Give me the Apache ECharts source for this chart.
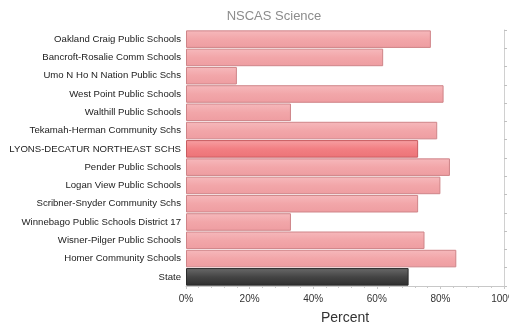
<!DOCTYPE html>
<html>
<head>
<meta charset="utf-8">
<script src="https://cdn.jsdelivr.net/npm/echarts@6/dist/echarts.min.js"></script>
<style>
html, body { margin: 0; padding: 0; background: #fff; }
#chart { width: 509px; height: 324px; }
</style>
</head>
<body>
<div id="chart"></div>
<script>
var schools = [
    'Oakland Craig Public Schools',
    'Bancroft-Rosalie Comm Schools',
    'Umo N Ho N Nation Public Schs',
    'West Point Public Schools',
    'Walthill Public Schools',
    'Tekamah-Herman Community Schs',
    'LYONS-DECATUR NORTHEAST SCHS',
    'Pender Public Schools',
    'Logan View Public Schools',
    'Scribner-Snyder Community Schs',
    'Winnebago Public Schools District 17',
    'Wisner-Pilger Public Schools',
    'Homer Community Schools',
    'State'
];
var percents = [77, 62, 16, 81, 33, 79, 73, 83, 80, 73, 33, 75, 85, 70];
var highlight = 'LYONS-DECATUR NORTHEAST SCHS';
var stateName = 'State';

function grad(top, mid, bottom) {
    return new echarts.graphic.LinearGradient(0, 0, 0, 1, [
        {offset: 0, color: top},
        {offset: 0.5, color: mid},
        {offset: 1, color: bottom}
    ]);
}

var barData = schools.map(function (name, i) {
    var style;
    if (name === stateName) {
        style = {color: grad('#6a6a6a', '#454545', '#2e2e2e'), borderColor: '#2a2a2a', borderWidth: 1};
    } else if (name === highlight) {
        style = {color: grad('#f7a0a3', '#f27f83', '#ec7377'), borderColor: '#c85c60', borderWidth: 1};
    } else {
        style = {color: grad('#f6b9bc', '#f2a6a9', '#ee9da1'), borderColor: '#cf8488', borderWidth: 1};
    }
    return {value: percents[i], itemStyle: style};
});

var chart = echarts.init(document.getElementById('chart'));
var option = {
    animation: false,
    title: {
        text: 'NSCAS Science',
        left: 269,
        textAlign: 'center',
        top: 5,
        textStyle: {
            fontFamily: 'Liberation Sans',
            fontSize: 13,
            fontWeight: 'normal',
            color: '#8c8c8c'
        }
    },
    grid: {
        left: 186,
        right: 5,
        top: 30,
        bottom: 38,
        outerBoundsMode: 'none',
        containLabel: false
    },
    xAxis: {
        type: 'value',
        min: 0,
        max: 100,
        interval: 20,
        name: 'Percent',
        nameLocation: 'middle',
        nameGap: 25,
        nameTextStyle: {
            fontFamily: 'Liberation Sans',
            fontSize: 14,
            color: '#333'
        },
        axisLine: {show: true, lineStyle: {color: '#c8c8c8'}},
        axisTick: {show: true, length: 3, lineStyle: {color: '#c8c8c8'}},
        minorTick: {show: true, splitNumber: 5, length: 2, lineStyle: {color: '#c8c8c8'}},
        splitLine: {show: false},
        axisLabel: {
            formatter: '{value}%',
            margin: 8,
            fontFamily: 'Liberation Sans',
            fontSize: 10,
            color: '#333'
        }
    },
    yAxis: [{
        type: 'category',
        data: schools,
        inverse: true,
        axisLine: {show: false},
        axisTick: {show: false},
        axisLabel: {
            margin: 5,
            fontFamily: 'Liberation Sans',
            fontSize: 9.6,
            color: '#222'
        }
    }, {
        type: 'category',
        data: schools,
        inverse: true,
        position: 'right',
        axisLine: {show: true, lineStyle: {color: '#d0d0d0'}},
        axisTick: {show: true, length: 3, lineStyle: {color: '#c0c0c0'}},
        axisLabel: {show: false}
    }],
    series: [{
        type: 'bar',
        data: barData,
        barCategoryGap: '4%'
    }]
};
chart.setOption(option);
</script>
</body>
</html>
